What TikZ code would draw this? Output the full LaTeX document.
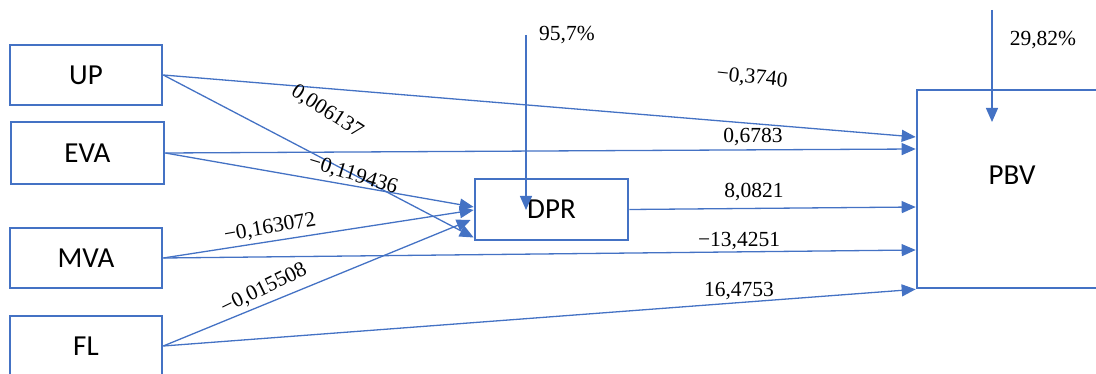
\documentclass[tikz,border=0pt]{standalone}
\usepackage{fontspec}
\newfontfamily\boxfont{Carlito}
\newfontfamily\numfont{Liberation Serif}
\usetikzlibrary{arrows.meta}
\definecolor{oblue}{HTML}{4472C4}
\begin{document}
\begin{tikzpicture}[x=1pt,y=-1pt,
  vbox/.style={draw=oblue,line width=2.6pt,fill=white,inner sep=0pt,font=\boxfont\fontsize{29}{32}\selectfont},
  conn/.style={draw=oblue,line width=1.3pt,-{Triangle[length=14pt,width=12pt]}},
  coef/.style={inner sep=0pt,font=\numfont\fontsize{21.5}{24}\selectfont}]
\useasboundingbox (0,0) rectangle (1096,374);
% boxes
\node[vbox,minimum width=152pt,minimum height=60pt] (UP) at (86,75) {UP};
\node[vbox,minimum width=153pt,minimum height=62pt] (EVA) at (87.5,153) {EVA};
\node[vbox,minimum width=152pt,minimum height=60pt] (MVA) at (86,258) {MVA};
\node[vbox,minimum width=152pt,minimum height=60pt] (FL) at (86,346) {FL};
\node[vbox,minimum width=153pt,minimum height=61pt] (DPR) at (551.5,209.5) {DPR};
\node[vbox,minimum width=190pt,minimum height=198pt] (PBV) at (1012,189) {};
\node[font=\boxfont\fontsize{29}{32}\selectfont,inner sep=0pt] (PBVt) at (1012,175) {PBV};
% coordinates for free ends
\coordinate (e1) at (526,35);
\coordinate (e2) at (992,10);
% connectors to DPR
\draw[conn] (UP.east) -- ([yshift=-28pt]DPR.west);
\draw[conn] (EVA.east) -- ([yshift=2.5pt]DPR.west);
\draw[conn] (MVA.east) -- ([yshift=-0.5pt]DPR.west);
\draw[conn] (FL.east) -- ([xshift=-3pt,yshift=-10.5pt]DPR.west);
% connectors to PBV
\draw[conn] (UP.east) -- ([yshift=52pt]PBV.west);
\draw[conn] (EVA.east) -- ([yshift=40pt]PBV.west);
\draw[conn] (DPR.east) -- ([yshift=-18pt]PBV.west);
\draw[conn] (MVA.east) -- ([yshift=-61pt]PBV.west);
\draw[conn] (FL.east) -- (PBV.south west);
% error arrows
\draw[conn] (e1) -- (526,210) coordinate (t1);
\draw[conn] (e2) -- (992,122) coordinate (t2);
% coefficient labels
\node[coef,rotate=-33] (c1) at (327,112) {0,006137};
\node[coef,rotate=-17] (c2) at (353,175) {−0,119436};
\node[coef,rotate=10] (c3) at (270,228) {−0,163072};
\node[coef,rotate=26] (c4) at (264,289) {−0,015508};
\node[coef,rotate=-6] (c5) at (752,78) {−0,3740};
\node[coef] (c6) at (753,137) {0,6783};
\node[coef] (c7) at (754,192) {8,0821};
\node[coef] (c8) at (739,241) {−13,4251};
\node[coef] (c9) at (739,291) {16,4753};
\node[coef] (r1) at (567,35) {95,7\%};
\node[coef] (r2) at (1043,40) {29,82\%};
\end{tikzpicture}
\end{document}
